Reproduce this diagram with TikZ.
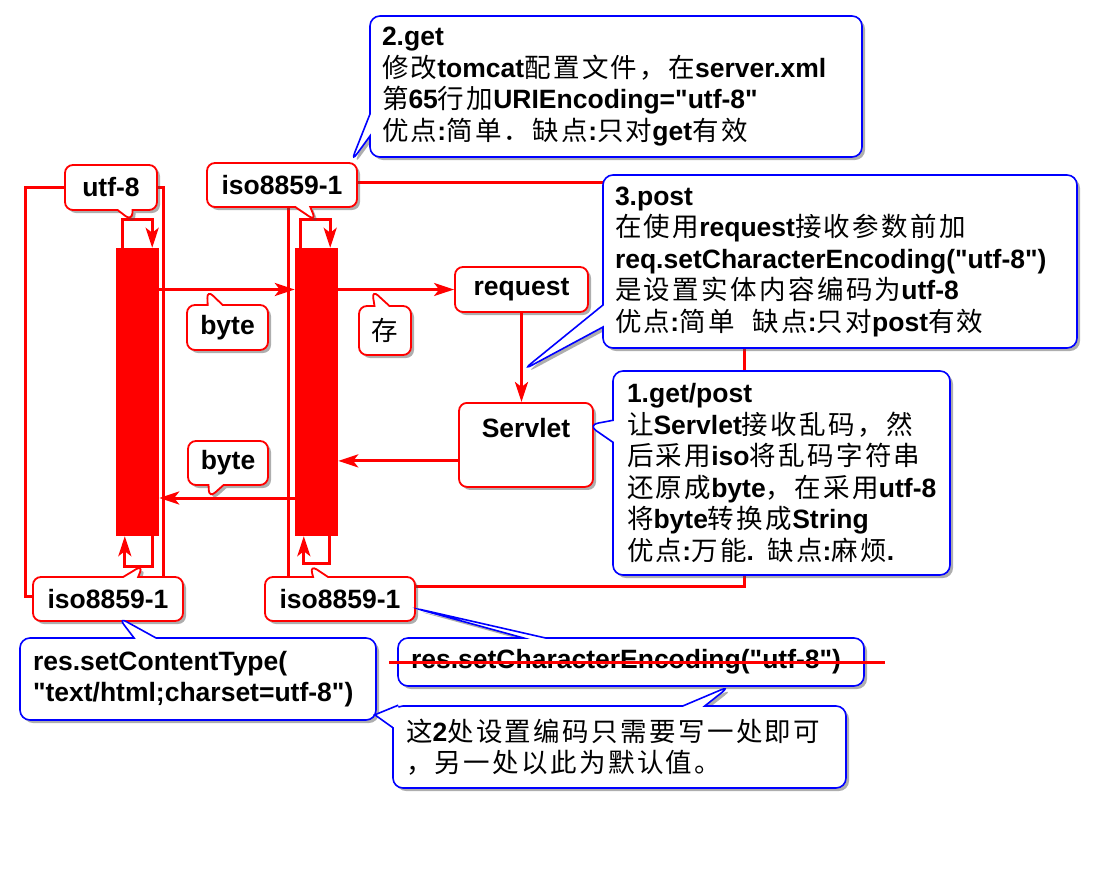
\documentclass[tikz,border=0pt]{standalone}
\usepackage{fontspec}
\setmainfont{Liberation Sans}[Ligatures=TeXOff]
\newfontfamily\cjk[LetterSpace=9]{Noto Sans CJK SC}
\usepackage{tikz}
\usetikzlibrary{arrows.meta, shapes.callouts, shadows, calc}
\definecolor{codered}{RGB}{255, 0, 0}
\definecolor{codeblue}{RGB}{0, 0, 255}
\newcommand{\zh}[1]{{\mdseries\cjk #1}}
\tikzset{
    txt/.style={font=\bfseries\fontsize{26.5pt}{31.5pt}\selectfont},
    shade/.style={drop shadow={shadow xshift=3pt, shadow yshift=-3pt, opacity=0.45, fill=black!70}},
    tag/.style={rectangle callout, txt, shade, draw=codered, line width=1.8pt, fill=white,
        rounded corners=8pt, inner sep=0pt, callout pointer width=15pt},
    note/.style={rectangle callout, txt, shade, draw=codeblue, line width=1.6pt, fill=white,
        rounded corners=10pt, inner sep=0pt, align=left, callout pointer width=22pt},
    box/.style={txt, shade, draw=codered, line width=1.8pt, fill=white, rounded corners=8pt, inner sep=0pt},
    bar/.style={fill=codered, minimum width=43pt, minimum height=288pt, inner sep=0pt},
    wire/.style={codered, line width=3pt},
    flow/.style={wire, -{Stealth[length=20pt, width=13pt, inset=5pt]}}
}
\begin{document}
\begin{tikzpicture}[x=1pt, y=-1pt]
    \useasboundingbox (0,0) rectangle (1100,873);

    % browser and server frames
    \draw[wire] (25,187) rectangle (163,596);
    \draw[wire] (288,182) rectangle (744,586);

    % bars, request, servlet
    \node[bar] (barA) at (137.5,392) {};
    \node[bar] (barB) at (316.5,392) {};
    \node[box, minimum width=133pt, minimum height=45pt] (request) at (521.5,289.5) {request};
    \node[box, minimum width=134pt, text height=35pt, text depth=49pt, anchor=north] (servlet) at (526,402) {Servlet};

    % loops on the bars
    \draw[flow] ([shift={(7,0)}]barA.north west) -- ++(0,-28) -| ([shift={(-7,0)}]barA.north east);
    \draw[flow] ([shift={(-7,0)}]barA.south east) -- ++(0,30) -| ([shift={(9,0)}]barA.south west);
    \draw[flow] ([shift={(6,0)}]barB.north west) -- ++(0,-28) -| ([shift={(-8,0)}]barB.north east);
    \draw[flow] ([shift={(-9,0)}]barB.south east) -- ++(0,27) -| ([shift={(9,0)}]barB.south west);

    % byte flow
    \draw[flow] (barA.east |- request.west) -- (barB.west |- request.west);
    \draw[flow] (barB.east |- request.west) -- (request.west);
    \draw[flow] (request.south) -- (request.south |- servlet.north);
    \coordinate (back) at ([shift={(0,16)}]servlet.west);
    \draw[flow] (back) -- (barB.east |- back);
    \draw[flow] ([shift={(0,106)}]barB.west) -- ([shift={(0,106)}]barA.east);

    % red tags
    \node[tag, minimum width=92pt, minimum height=45pt, callout absolute pointer={(132,221)}] (utf) at (111,187.5) {utf-8};
    \node[tag, minimum width=150pt, minimum height=44pt, callout absolute pointer={(316,221)}] (isoT) at (282,185) {iso8859-1};
    \node[tag, minimum width=81pt, minimum height=45pt, callout absolute pointer={(207,290)}] (byteA) at (227.5,327.5) {byte};
    \node[tag, minimum width=52pt, minimum height=49pt, callout absolute pointer={(372,290)}] (cun) at (385,330.5) {\zh{存}};
    \node[tag, minimum width=80pt, minimum height=44pt, callout absolute pointer={(209,498)}] (byteB) at (228,463) {byte};
    \node[tag, minimum width=150pt, minimum height=44pt, callout absolute pointer={(143,565)}] (isoL) at (108,599) {iso8859-1};
    \node[tag, minimum width=150pt, minimum height=44pt, callout absolute pointer={(310,565)}] (isoR) at (340,599) {iso8859-1};

    % blue notes
    \node[note, minimum width=492pt, minimum height=141pt, text width=468pt, callout absolute pointer={(351,162)}] (get) at (616,86.5) {
        2.get\\
        \zh{修改}tomcat\zh{配置文件，在}server.xml\\
        \zh{第}65\zh{行加}URIEncoding="utf-8"\\
        \zh{优点}:\zh{简单．缺点}:\zh{只对}get\zh{有效}};
    \node[note, minimum width=474pt, minimum height=173pt, text width=450pt, callout absolute pointer={(523,370)}] (post) at (840,261.5) {
        3.post\\
        \zh{在使用}request\zh{接收参数前加}\\
        req.setCharacterEncoding("utf-8")\\
        \zh{是设置实体内容编码为}utf-8\\
        \zh{优点}:\zh{简单}\hspace{18pt}\zh{缺点}:\zh{只对}post\zh{有效}};
    \node[note, minimum width=337pt, minimum height=204pt, text width=309pt, callout absolute pointer={(588,425)}] (both) at (781.5,473) {
        1.get/post\\
        \zh{让}Servlet\zh{接收乱码，然}\\
        \zh{后采用}iso\zh{将乱码字符串}\\
        \mbox{\zh{还原成}byte\zh{，在采用}utf-8}\\
        \zh{将}byte\zh{转换成}String\\
        \zh{优点}:\zh{万能}. \zh{缺点}:\zh{麻烦}.};
    \node[note, minimum width=356pt, minimum height=82pt, text width=330pt, callout absolute pointer={(118,617)}] (ctype) at (198,679) {
        res.setContentType(\\
        \mbox{"text/html;charset=utf-8")}};
    \node[note, minimum width=466pt, minimum height=48pt, text width=440pt, callout absolute pointer={(414,608)}] (cenc) at (631,662) {
        res.setCharacterEncoding("utf-8")};
    \node[note, minimum width=453pt, minimum height=82pt, text width=427pt, callout absolute pointer={(730,686)}] (once) at (619.5,747) {
        \zh{这}2\zh{处设置编码只需要写一处即可}\\
        \zh{，另一处以此为默认值。}};

    % struck out call
    \draw[wire] ([shift={(-8,0)}]cenc.west) -- ([shift={(20,0)}]cenc.east);

    % second pointer of the last note
    \coordinate (tip) at ([shift={(-2,-6)}]ctype.south east);
    \fill[white] (tip) -- ([shift={(6,1.5)}]once.north west) -- ([shift={(9,10)}]once.north west)
        -- ([shift={(1.5,22)}]once.north west) -- cycle;
    \draw[codeblue, line width=1.6pt] ([shift={(6,0)}]once.north west) -- (tip) -- ([shift={(0,22)}]once.north west);
\end{tikzpicture}
\end{document}
